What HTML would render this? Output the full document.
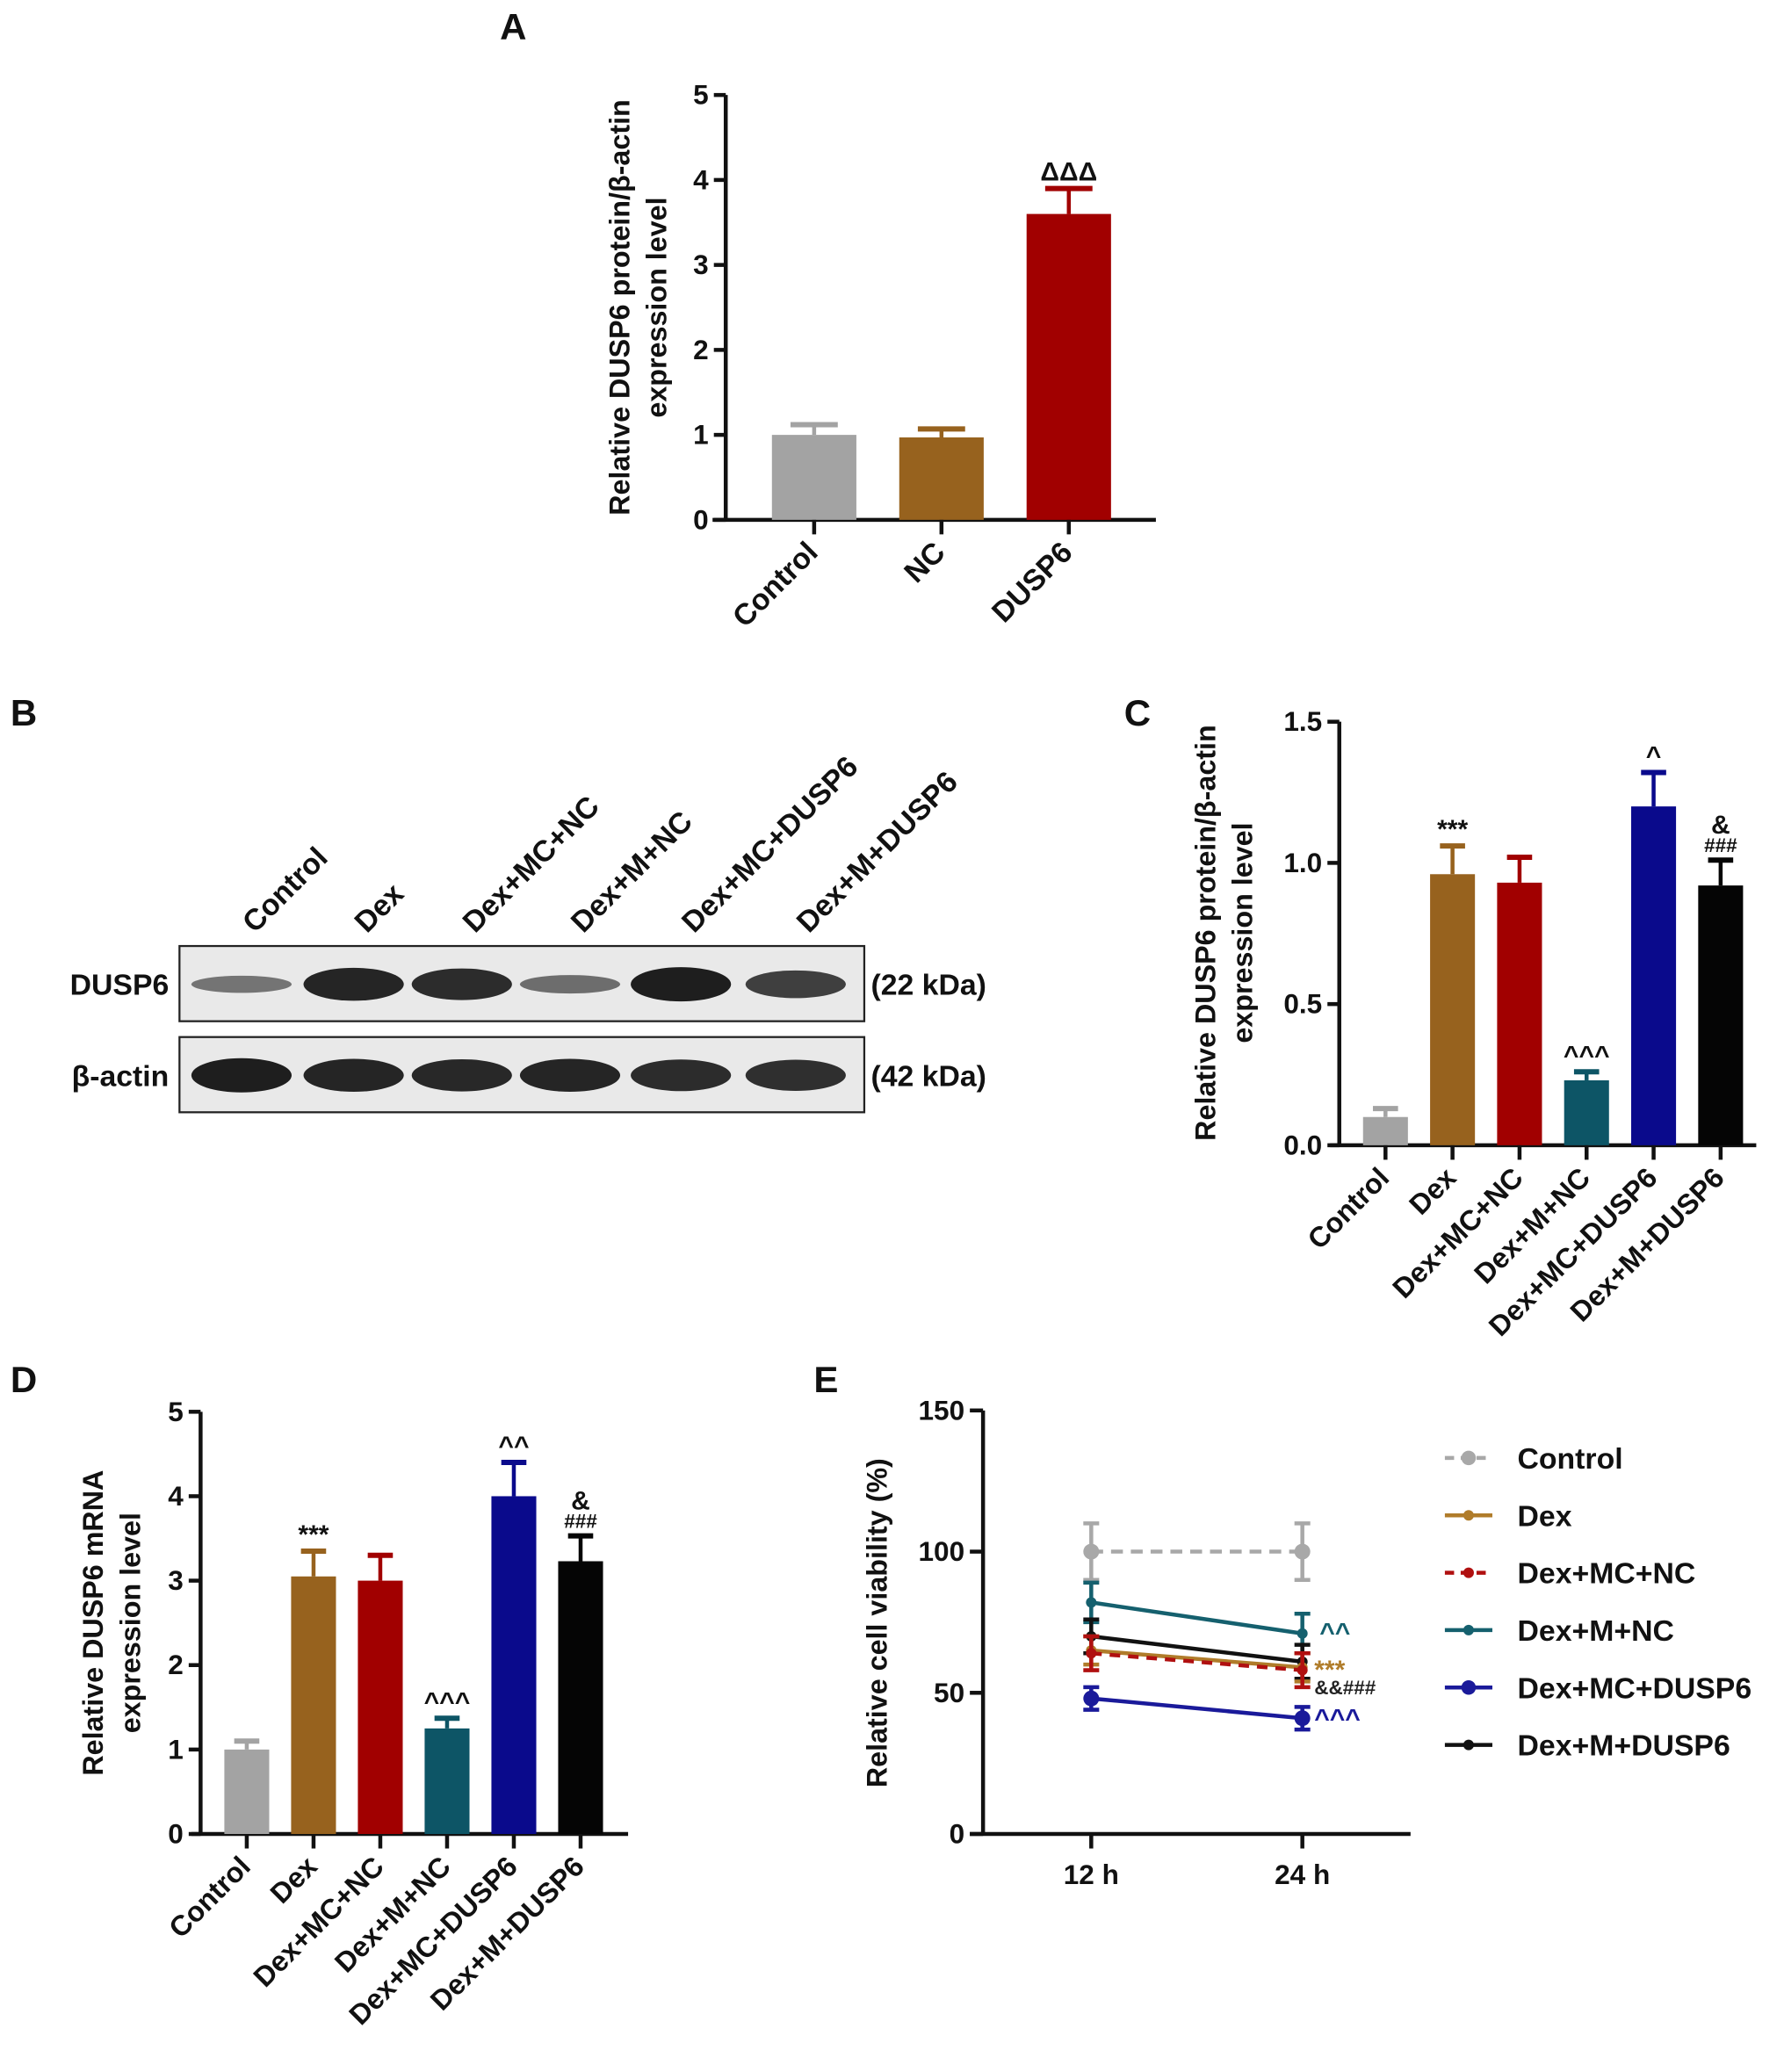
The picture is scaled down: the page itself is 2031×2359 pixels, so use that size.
<!DOCTYPE html>
<html><head><meta charset="utf-8"><style>
html,body{margin:0;padding:0;background:#fff}
svg{display:block}
text{font-family:"Liberation Sans",sans-serif;font-weight:bold;fill:#111}
</style></head><body>
<svg id="fig" width="2031" height="2359" viewBox="0 0 1352 1570.4" xmlns="http://www.w3.org/2000/svg">
<g id="gA"></g>
<g id="gB"></g>
<g id="gC"></g>
<g id="gD"></g>
<g id="gE"></g>
</svg>
<script>
// Panel A data
const aCats=["Control","NC","DUSP6"];
const aVals=[1.0,0.97,3.6];
const aErrs=[0.12,0.1,0.3];
const aTicks=[0,1,2,3,4,5];
// Panel C data
const cCats=["Control","Dex","Dex+MC+NC","Dex+M+NC","Dex+MC+DUSP6","Dex+M+DUSP6"];
const cVals=[0.1,0.96,0.93,0.23,1.2,0.92];
const cErrs=[0.03,0.1,0.09,0.03,0.12,0.09];
const cTicks=[0,0.5,1.0,1.5];
const cTickLabels=["0.0","0.5","1.0","1.5"];
// Panel D data
const dVals=[1.0,3.05,3.0,1.25,4.0,3.23];
const dErrs=[0.1,0.3,0.3,0.12,0.4,0.3];
const dTicks=[0,1,2,3,4,5];
// Panel E data
const eTimes=["12 h","24 h"];
const eSeries=["Control","Dex","Dex+MC+NC","Dex+M+NC","Dex+MC+DUSP6","Dex+M+DUSP6"];
const eControl=[100,100];
const eDex=[65,59];
const eMCNC=[64,58];
const eMNC=[82,71];
const eMCDUSP6=[48,41];
const eMDUSP6=[70,61];
const eErrs=[10,5,6,7,4,6];
const eTicks=[0,50,100,150];
// Blot band intensities
const dusp6Bands=[0.35,0.95,0.9,0.4,1.0,0.75];
const actinBands=[1,0.95,0.92,0.95,0.9,0.88];

const colors=["#a3a3a3","#97621e","#a10000","#0d5566","#0a0a8c","#050505"];
const NS="http://www.w3.org/2000/svg";
function mk(p,tag,at,txt){const e=document.createElementNS(NS,tag);for(const k in at)e.setAttribute(k,at[k]);if(txt!==undefined)e.textContent=txt;p.appendChild(e);return e;}

function barChart(g,o){
  const y=v=>o.y0-(v-o.ymin)/(o.ymax-o.ymin)*(o.y0-o.y1);
  let ax=mk(g,'line',{x1:o.ax,y1:o.y1,x2:o.ax,y2:o.y0+1,stroke:'#111','stroke-width':3});
  
  let xx=mk(g,'line',{x1:o.xa0,y1:o.y0,x2:o.xa1,y2:o.y0,stroke:'#111','stroke-width':3});
  
  o.ticks.forEach((t,i)=>{
    mk(g,'line',{x1:o.ax-9,y1:y(t),x2:o.ax,y2:y(t),stroke:'#111','stroke-width':3});
    const tl=mk(g,'text',{x:o.ax-13,y:y(t)+7,'text-anchor':'end','font-size':21},o.tickLabels?o.tickLabels[i]:t);
    
  });
  o.vals.forEach((v,i)=>{
    const cx=o.x0+i*o.dx,c=o.colors[i];
    const top=y(v+o.errs[i]);
    mk(g,'line',{x1:cx,y1:y(v),x2:cx,y2:top,stroke:c,'stroke-width':3});
    mk(g,'line',{x1:cx-o.bw*0.28,y1:top,x2:cx+o.bw*0.28,y2:top,stroke:c,'stroke-width':4});
    const r=mk(g,'rect',{x:cx-o.bw/2,y:y(v),width:o.bw,height:o.y0-y(v),fill:c});
    
    
    mk(g,'line',{x1:cx,y1:o.y0,x2:cx,y2:o.y0+11,stroke:'#111','stroke-width':3});
    const lx=cx+4,ly=o.y0+26;
    const t=mk(g,'text',{x:lx,y:ly,'text-anchor':'end','font-size':o.lfs,transform:`rotate(-45 ${lx} ${ly})`},o.cats[i]);
    
  });
  o.ann.forEach((a,i)=>{ if(!a)return;
    const cx=o.x0+i*o.dx, top=y(o.vals[i]+o.errs[i]);
    a.forEach((s,k)=>{const t=mk(g,'text',{x:cx,y:top-6-(a.length-1-k)*14,'text-anchor':'middle','font-size':s.length>1&&s[0]=='&'?14:(s.includes('#')?15:20),'font-weight':'normal'},s);
      });
  });
  o.ylab.forEach((s,k)=>{const x=o.ylx+k*o.yld;const t=mk(g,'text',{x:x,y:o.ylc,'text-anchor':'middle','font-size':21.5,transform:`rotate(-90 ${x} ${o.ylc})`},s);
    });
}
function label(g,s,x,y){const t=mk(g,'text',{x:x,y:y,'font-size':28,'text-anchor':'middle'},s);}

// A
const gA=document.getElementById('gA');label(gA,'A',389,30);
barChart(gA,{ax:550,y0:394,y1:72,ymin:0,ymax:5,xa0:540,xa1:876,ticks:aTicks,vals:aVals,errs:aErrs,cats:aCats,colors:[colors[0],colors[1],colors[2]],x0:617,dx:96.5,bw:64,lfs:22.5,
 ann:[null,null,["ΔΔΔ"]],ylab:["Relative DUSP6 protein/β-actin","expression level"],ylx:477,yld:28,ylc:233});
// C
const gC=document.getElementById('gC');label(gC,'C',862,550);
barChart(gC,{ax:1015,y0:868,y1:547,ymin:0,ymax:1.5,xa0:1008,xa1:1331,ticks:cTicks,tickLabels:cTickLabels,vals:cVals,errs:cErrs,cats:cCats,colors:colors,x0:1050,dx:50.8,bw:34,lfs:21.5,
 ann:[null,["***"],null,["^^^"],["^"],["&","###"]],ylab:["Relative DUSP6 protein/β-actin","expression level"],ylx:921,yld:28,ylc:707});
// D
const gD=document.getElementById('gD');label(gD,'D',18,1055);
barChart(gD,{ax:152,y0:1390,y1:1070,ymin:0,ymax:5,xa0:145,xa1:476,ticks:dTicks,vals:dVals,errs:dErrs,cats:cCats,colors:colors,x0:187,dx:50.6,bw:34,lfs:21.5,
 ann:[null,["***"],null,["^^^"],["^^"],["&","###"]],ylab:["Relative DUSP6 mRNA","expression level"],ylx:78,yld:28,ylc:1230});

// B blot
const gB=document.getElementById('gB');label(gB,'B',18,550);
const lanes=[183,268,350,432,516,603];
cCats.forEach((c,i)=>{const lx=lanes[i]+10,ly=708;const t=mk(gB,'text',{x:lx,y:ly,'font-size':22.5,transform:`rotate(-45 ${lx} ${ly})`},c);
 });
[[717,dusp6Bands,"DUSP6","(22 kDa)"],[786,actinBands,"β-actin","(42 kDa)"]].forEach(([y0,b,n,kd])=>{
  const r=mk(gB,'rect',{x:136,y:y0,width:519,height:57,fill:'#e9e9e9',stroke:'#222','stroke-width':1.5});
  
  b.forEach((v,i)=>{const e=mk(gB,'ellipse',{cx:lanes[i],cy:y0+29,rx:38,ry:3+10*v,fill:'#1e1e1e','fill-opacity':0.35+0.65*v});
    });
  const t1=mk(gB,'text',{x:128,y:y0+37,'text-anchor':'end','font-size':22.5},n);
  const t2=mk(gB,'text',{x:660,y:y0+37,'font-size':22.5},kd);
});

// E line chart
const gE=document.getElementById('gE');label(gE,'E',626,1055);
const ey=v=>1390-v/150*(1390-1069);const ex=i=>827+i*160;
mk(gE,'line',{x1:745,y1:1069,x2:745,y2:1391,stroke:'#111','stroke-width':3});
mk(gE,'line',{x1:735,y1:1390,x2:1069,y2:1390,stroke:'#111','stroke-width':3});
eTicks.forEach(t=>{mk(gE,'line',{x1:735,y1:ey(t),x2:745,y2:ey(t),stroke:'#111','stroke-width':3});
 const tl=mk(gE,'text',{x:731,y:ey(t)+7,'text-anchor':'end','font-size':21},t);});
eTimes.forEach((s,i)=>{mk(gE,'line',{x1:ex(i),y1:1390,x2:ex(i),y2:1401,stroke:'#111','stroke-width':3});
 const tl=mk(gE,'text',{x:ex(i),y:1428,'text-anchor':'middle','font-size':21},s);});
{const t=mk(gE,'text',{x:672,y:1230,'text-anchor':'middle','font-size':21.5,transform:'rotate(-90 672 1230)'},'Relative cell viability (%)');}
const eData=[eControl,eDex,eMCNC,eMNC,eMCDUSP6,eMDUSP6];
const eCol=["#a8a8a8","#b07c2a","#b01010","#15606e","#1a1a9a","#111111"];
const eDash=["9,6",null,"8,6",null,null,null];
const eOrder=[0,4,3,5,1,2];
eOrder.forEach(si=>{const d=eData[si],c=eCol[si];
  const pl=mk(gE,'polyline',{points:d.map((v,i)=>ex(i)+','+ey(v)).join(' '),fill:'none',stroke:c,'stroke-width':3});
  if(eDash[si])pl.setAttribute('stroke-dasharray',eDash[si]);
  
  d.forEach((v,i)=>{const e=eErrs[si];
    mk(gE,'line',{x1:ex(i),y1:ey(v-e),x2:ex(i),y2:ey(v+e),stroke:c,'stroke-width':3});
    [v-e,v+e].forEach(w=>mk(gE,'line',{x1:ex(i)-6,y1:ey(w),x2:ex(i)+6,y2:ey(w),stroke:c,'stroke-width':3}));
    const p=mk(gE,'circle',{cx:ex(i),cy:ey(v),r:si==0||si==4?6:4,fill:c});
  });
});
[["^^",1000,1244,"#15606e"],["***",996,1272,"#b07c2a"],["&&###",996,1284,"#222"],["^^^",996,1309,"#1a1a9a"]].forEach(([s,x,y,c])=>{
 const t=mk(gE,'text',{x:x,y:y,'font-size':s=="&&###"?15:20,fill:c},s);t.style.fill=c;});
eSeries.forEach((s,i)=>{const y=1105+i*43.5;const g=mk(gE,'g',{});
 
 const l=mk(g,'line',{x1:1095,y1:y,x2:1131,y2:y,stroke:eCol[i],'stroke-width':3});if(eDash[i])l.setAttribute('stroke-dasharray','7,5');
 mk(g,'circle',{cx:1113,cy:y,r:i==0||i==4?5.5:4,fill:eCol[i]});
 mk(g,'text',{x:1150,y:y+8,'font-size':22.5},s);});
</script>
</body></html>
